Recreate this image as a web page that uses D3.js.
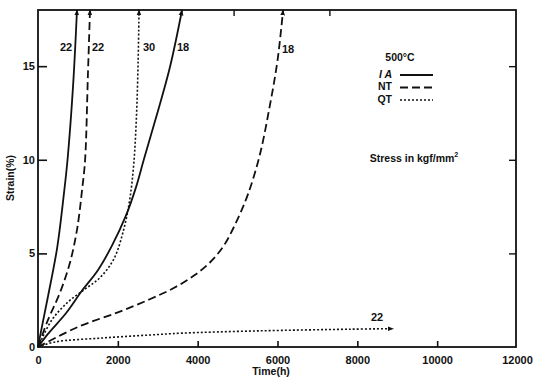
<!DOCTYPE html>
<html><head><meta charset="utf-8">
<script src="https://cdn.jsdelivr.net/npm/d3@7"></script>
<style>body{margin:0;background:#fff}svg{display:block}text{font-family:"Liberation Sans",Arial,sans-serif;font-weight:bold;fill:#111}</style>
</head><body><svg id="c" width="544" height="381"></svg>
<script>
// Data (hours, strain %)
const ia22 = [[0,0],[100,1.1],[250,2.7],[480,5.3],[650,8.2],[740,10.0],[880,14.0],[977,18]];
const nt22 = [[0,0],[250,1.45],[550,2.9],[800,4.5],[980,6.3],[1110,8.5],[1180,10.0],[1250,14.5],[1303,18]];
const qt30 = [[0,0],[350,1.45],[750,2.4],[1150,3.05],[1550,3.7],[1900,4.7],[2150,6.3],[2300,7.9],[2400,9.8],[2470,12.5],[2510,15.4],[2531,18]];
const ia18 = [[0,0],[250,0.7],[700,1.8],[1100,3.0],[1500,4.1],[1850,5.4],[2200,7.0],[2450,8.5],[2650,10.0],[2950,12.2],[3300,14.9],[3609,18]];
const nt18 = [[0,0],[1000,1.07],[2000,1.85],[2800,2.55],[3400,3.15],[3900,3.8],[4300,4.5],[4650,5.4],[4950,6.6],[5250,8.1],[5550,10.2],[5800,12.8],[6000,15.3],[6140,18]];
const qt22 = [[0,0],[430,0.27],[1600,0.48],[2800,0.64],[3600,0.74],[5500,0.86],[7800,0.95],[8900,0.98]];
const xTicks = [0,2000,4000,6000,8000,10000,12000];
const yTicks = [0,5,10,15];
const topTicks = [4900,7300];
const series = [
  {name:"IA22", data:ia22, type:"IA", label:"22", lx:66, ly:48},
  {name:"NT22", data:nt22, type:"NT", label:"22", lx:98, ly:48},
  {name:"QT30", data:qt30, type:"QT", label:"30", lx:149, ly:48},
  {name:"IA18", data:ia18, type:"IA", label:"18", lx:183, ly:48},
  {name:"NT18", data:nt18, type:"NT", label:"18", lx:288, ly:50},
  {name:"QT22", data:qt22, type:"QT", label:"22", lx:377, ly:318}
];
const styles = {IA:{dash:null,w:1.8}, NT:{dash:"8,4",w:1.8}, QT:{dash:"2,2",w:1.6}};
const legend = [{k:"IA",t:"I A"},{k:"NT",t:"NT"},{k:"QT",t:"QT"}];

const svg = d3.select("#c");
const x = d3.scaleLinear().domain([0,12000]).range([38,517]);
const y = d3.scaleLinear().domain([0,18]).range([347,10]);

const defs = svg.append("defs");
defs.append("marker").attr("id","arr").attr("viewBox","0 0 10 10").attr("refX",9).attr("refY",5)
  .attr("markerWidth",6).attr("markerHeight",6).attr("markerUnits","userSpaceOnUse").attr("orient","auto")
  .append("path").attr("d","M0,1L10,5L0,9Z").attr("fill","#111");

// frame
svg.append("rect").attr("x",x(0)).attr("y",y(18)).attr("width",516-x(0)).attr("height",y(0)-y(18))
  .attr("fill","none").attr("stroke","#111").attr("stroke-width",1.8);

// bottom axis
const xa = svg.append("g").attr("transform",`translate(0,${y(0)})`)
  .call(d3.axisBottom(x).tickValues(xTicks).tickSize(-6).tickPadding(9).tickFormat(d3.format("d")));
xa.select(".domain").remove();
xa.selectAll("line").attr("stroke","#111").attr("stroke-width",1.6);
xa.selectAll("text").attr("font-size",11).attr("font-family","Liberation Sans,Arial,sans-serif").attr("font-weight","bold");
xa.selectAll(".tick").filter(d=>d===0||d===12000).select("line").remove();

// left axis
const ya = svg.append("g").attr("transform",`translate(${x(0)},0)`)
  .call(d3.axisLeft(y).tickValues(yTicks).tickSize(-9).tickPadding(3));
ya.select(".domain").remove();
ya.selectAll("line").attr("stroke","#111").attr("stroke-width",1.6);
ya.selectAll("text").attr("font-size",11).attr("font-family","Liberation Sans,Arial,sans-serif").attr("font-weight","bold");
ya.selectAll(".tick").filter(d=>d===0).select("line").remove();

// right axis ticks
const ra = svg.append("g").attr("transform",`translate(516,0)`)
  .call(d3.axisRight(y).tickValues([5,10,15]).tickSize(-7).tickFormat(""));
ra.select(".domain").remove();
ra.selectAll("line").attr("stroke","#111").attr("stroke-width",1.4);

// top ticks
const ta = svg.append("g").attr("transform",`translate(0,${y(18)})`)
  .call(d3.axisTop(x).tickValues(topTicks).tickSize(-6).tickFormat(""));
ta.select(".domain").remove();
ta.selectAll("line").attr("stroke","#111").attr("stroke-width",1.4);

// axis titles
svg.append("text").attr("x",271).attr("y",375).attr("text-anchor","middle").attr("font-size",10.5).text("Time(h)");
svg.append("text").attr("transform","translate(14,178) rotate(-90)").attr("text-anchor","middle").attr("font-size",10.5).text("Strain(%)");

// curves
const line = d3.line().x(d=>x(d[0])).y(d=>y(d[1])).curve(d3.curveCatmullRom.alpha(0.5));
series.forEach(s=>{
  const st = styles[s.type];
  svg.append("path").datum(s.data).attr("d",line).attr("fill","none").attr("stroke","#111")
    .attr("stroke-width",st.w).attr("stroke-dasharray",st.dash).attr("marker-end","url(#arr)");
  svg.append("text").attr("x",s.lx).attr("y",s.ly).attr("text-anchor","middle").attr("dominant-baseline","middle")
    .attr("font-size",11).text(s.label);
});

// legend
svg.append("text").attr("x",400).attr("y",58).attr("text-anchor","middle").attr("dominant-baseline","middle").attr("font-size",10.5).attr("font-weight","normal").text("500°C");
legend.forEach((l,i)=>{
  const yy = 75 + i*12.5;
  svg.append("text").attr("x",392).attr("y",yy).attr("text-anchor","end").attr("dominant-baseline","middle").attr("font-size",10.5).attr("font-weight","normal").attr("font-style",l.k==="IA"?"italic":"normal").text(l.t);
  svg.append("line").attr("x1",400).attr("x2",433).attr("y1",yy).attr("y2",yy).attr("stroke","#111")
    .attr("stroke-width",styles[l.k].w).attr("stroke-dasharray",styles[l.k].dash);
});
svg.append("text").attr("x",414).attr("y",159).attr("text-anchor","middle").attr("dominant-baseline","middle").attr("font-size",10.5).html("Stress in kgf/mm<tspan font-size='7' dy='-4'>2</tspan>");
</script></body></html>
